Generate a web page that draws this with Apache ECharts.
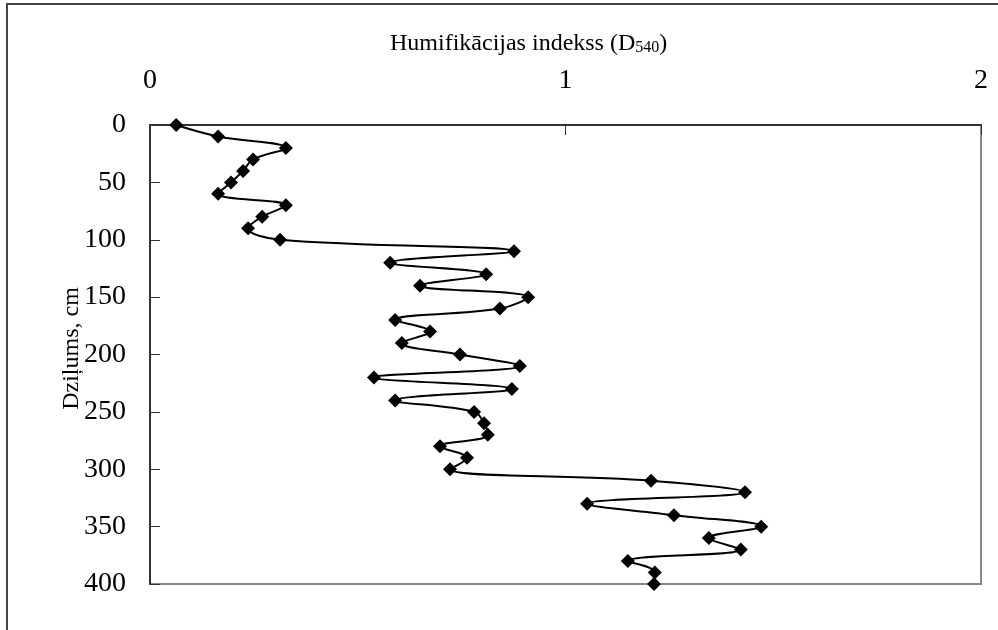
<!DOCTYPE html>
<html>
<head>
<meta charset="utf-8">
<script src="https://cdn.jsdelivr.net/npm/echarts@6/dist/echarts.min.js"></script>
<style>
  html, body { margin: 0; padding: 0; background: #fff; }
  #chart { width: 998px; height: 630px; }
</style>
</head>
<body>
<div id="chart"></div>
<script>
// Depth of each sample, cm
const depths = [0, 10, 20, 30, 40, 50, 60, 70, 80, 90, 100, 110, 120, 130, 140, 150, 160, 170, 180, 190, 200,
  210, 220, 230, 240, 250, 260, 270, 280, 290, 300, 310, 320, 330, 340, 350, 360, 370, 380, 390, 400];
// Humification index D540 at each depth
const humification = [0.063, 0.164, 0.327, 0.248, 0.224, 0.195, 0.164, 0.327, 0.270, 0.236, 0.313,
  0.876, 0.578, 0.809, 0.650, 0.910, 0.842, 0.590, 0.674, 0.606, 0.746,
  0.890, 0.539, 0.871, 0.590, 0.780, 0.804, 0.813, 0.698, 0.763, 0.722,
  1.206, 1.432, 1.052, 1.261, 1.471, 1.345, 1.422, 1.150, 1.215, 1.213];

const serif = '"Liberation Serif", "Times New Roman", serif';
const chart = echarts.init(document.getElementById('chart'), null, { renderer: 'canvas' });

chart.setOption({
  backgroundColor: '#fff',
  animation: false,
  title: {
    text: '{a|Humifikācijas indekss (D}{b|540}{a|)}',
    left: 385,
    top: 27,
    textStyle: {
      fontWeight: 'normal',
      rich: {
        a: { fontFamily: serif, fontSize: 24, fontWeight: 'normal', color: '#000' },
        b: { fontFamily: serif, fontSize: 16, fontWeight: 'normal', color: '#000', verticalAlign: 'bottom', padding: [7, 0, 0, 0] }
      }
    }
  },
  graphic: [{
    type: 'rect',
    shape: { x: 7, y: 4, width: 1000, height: 700 },
    style: { fill: 'none', stroke: '#444', lineWidth: 2 },
    silent: true
  }],
  grid: {
    left: 150, top: 125, right: 17, bottom: 46,
    show: true, borderColor: '#888', borderWidth: 2, backgroundColor: '#fff'
  },
  xAxis: {
    type: 'value',
    position: 'top',
    min: 0, max: 2, interval: 1,
    axisLine: { show: true, lineStyle: { color: '#333', width: 2 } },
    axisTick: { show: true, inside: true, length: 10, lineStyle: { color: '#333', width: 1 } },
    axisLabel: { fontFamily: serif, fontSize: 28, color: '#000', margin: 30 },
    splitLine: { show: false }
  },
  yAxis: {
    type: 'value',
    inverse: true,
    min: 0, max: 400, interval: 50,
    name: 'Dziļums, cm',
    nameLocation: 'middle',
    nameRotate: 90,
    nameGap: 66,
    nameMoveOverlap: false,
    nameTextStyle: { fontFamily: serif, fontSize: 24, color: '#000', padding: [0, 0, 0, 12] },
    axisLine: { show: true, lineStyle: { color: '#333', width: 2 } },
    axisTick: { show: true, inside: true, length: 10, lineStyle: { color: '#333', width: 1 } },
    axisLabel: { fontFamily: serif, fontSize: 28, color: '#000', margin: 24 },
    splitLine: { show: false }
  },
  series: [{
    type: 'line',
    data: depths.map((d, i) => [humification[i], d]),
    smooth: 0.4,
    symbol: 'diamond',
    symbolSize: 14,
    showAllSymbol: true,
    lineStyle: { color: '#000', width: 2 },
    itemStyle: { color: '#000' },
    clip: false
  }]
});
</script>
</body>
</html>
